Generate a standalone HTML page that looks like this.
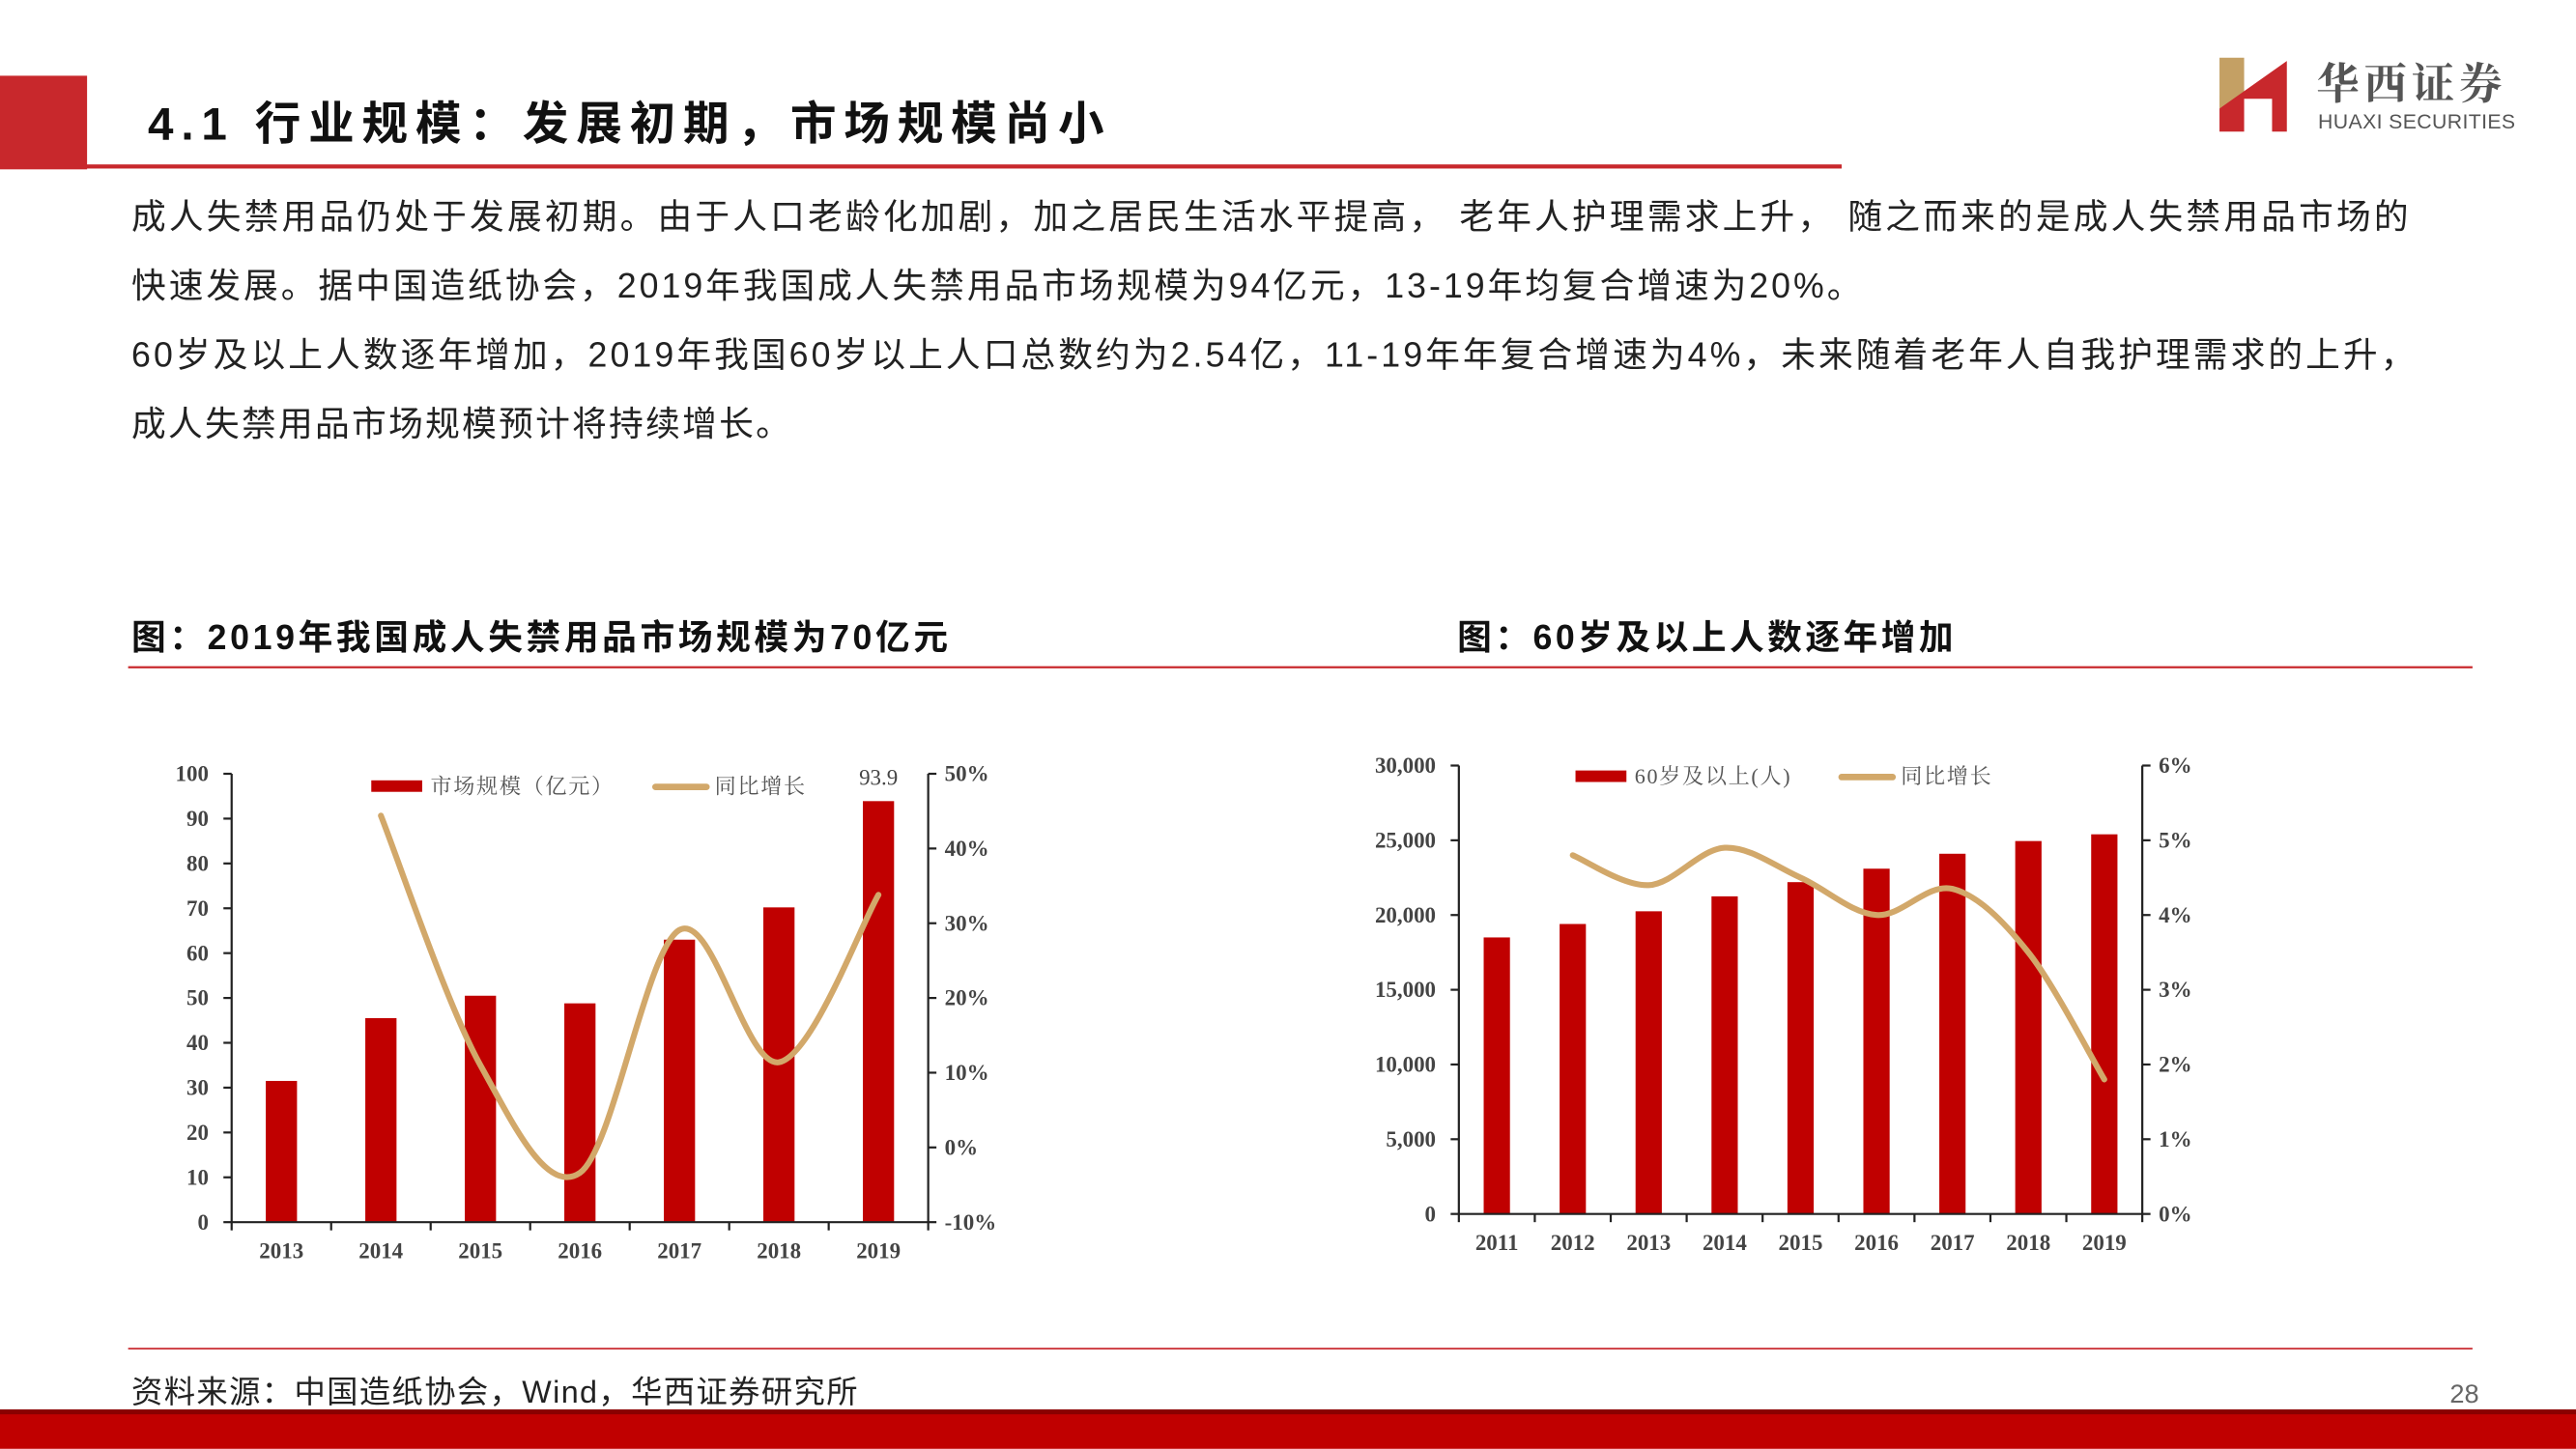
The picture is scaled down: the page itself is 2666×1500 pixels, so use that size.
<!DOCTYPE html>
<html><head><meta charset="utf-8"><style>
html,body{margin:0;padding:0;background:#fff;}
svg{display:block;}
.sans{font-family:"Liberation Sans","Noto Sans CJK SC",sans-serif;}
.serif{font-family:"Liberation Serif","Noto Serif CJK SC",serif;}
</style></head><body>
<svg id="page" width="2666" height="1500" viewBox="0 0 1568 882" xmlns="http://www.w3.org/2000/svg">
<rect x="0" y="46" width="53" height="57" fill="#c8282c"/>
<text x="90" y="85" class="sans" font-size="28" font-weight="bold" fill="#111" textLength="582" lengthAdjust="spacing">4.1 行业规模：发展初期，市场规模尚小</text>
<rect x="35" y="100" width="1086" height="2.5" fill="#c8282c"/>
<g>
<polygon points="1351,35 1366,35 1366,58 1351,66" fill="#c4a064"/>
<polygon points="1351,80 1351,66 1392,37 1392,80 1383,80 1383,60 1366,60 1366,80" fill="#c8282c"/>
<text x="1410" y="60" class="serif" font-size="26" font-weight="bold" fill="#555" letter-spacing="3">华西证券</text>
<text x="1411" y="78" class="sans" font-size="12.5" fill="#555" textLength="120" lengthAdjust="spacing">HUAXI SECURITIES</text>
</g>
<g class="sans" font-size="21" fill="#222">
<text x="80" y="139" textLength="1386" lengthAdjust="spacing">成人失禁用品仍处于发展初期。由于人口老龄化加剧，加之居民生活水平提高， 老年人护理需求上升， 随之而来的是成人失禁用品市场的</text>
<text x="80" y="181" textLength="1053" lengthAdjust="spacing">快速发展。据中国造纸协会，2019年我国成人失禁用品市场规模为94亿元，13-19年均复合增速为20%。</text>
<text x="80" y="223" textLength="1390" lengthAdjust="spacing">60岁及以上人数逐年增加，2019年我国60岁以上人口总数约为2.54亿，11-19年年复合增速为4%，未来随着老年人自我护理需求的上升，</text>
<text x="80" y="265" textLength="401" lengthAdjust="spacing">成人失禁用品市场规模预计将持续增长。</text>
</g>
<text x="80" y="395" class="sans" font-size="21" font-weight="bold" fill="#111" textLength="497" lengthAdjust="spacing">图：2019年我国成人失禁用品市场规模为70亿元</text>
<text x="887" y="395" class="sans" font-size="21" font-weight="bold" fill="#111" textLength="302" lengthAdjust="spacing">图：60岁及以上人数逐年增加</text>
<rect x="78" y="405.5" width="1427" height="1.3" fill="#c8282c"/>
<g id="c1"></g>
<g id="c2"></g>
<rect x="78" y="820.5" width="1427" height="1" fill="#c8282c"/>
<text x="80" y="854" class="sans" font-size="19" fill="#222" textLength="442" lengthAdjust="spacing">资料来源：中国造纸协会，Wind，华西证券研究所</text>
<text x="1509" y="854" class="sans" font-size="16" fill="#666" text-anchor="end">28</text>
<rect x="0" y="858" width="1568" height="24" fill="#c00000"/>
<rect x="0" y="858" width="1568" height="3" fill="#8a0000"/>
</svg>
<script>
const c1Categories=["2013","2014","2015","2016","2017","2018","2019"];
const c1Values=[31.5,45.5,50.5,48.8,63,70.2,93.9];
const c1Growth=[null,44.4,11.0,-3.4,29.1,11.4,33.8];
const c1LeftTicks=[0,10,20,30,40,50,60,70,80,90,100];
const c1RightTicks=[-10,0,10,20,30,40,50];

const c2Categories=["2011","2012","2013","2014","2015","2016","2017","2018","2019"];
const c2Values=[18500,19400,20250,21250,22200,23100,24100,24950,25400];
const c2Growth=[null,4.8,4.4,4.9,4.5,4.0,4.35,3.5,1.8];
const c2LeftTicks=[0,5000,10000,15000,20000,25000,30000];
const c2RightTicks=[0,1,2,3,4,5,6];

const NS="http://www.w3.org/2000/svg";
function mk(parent,tag,attrs){const e=document.createElementNS(NS,tag);for(const k in attrs)e.setAttribute(k,attrs[k]);parent.appendChild(e);return e;}
function smoothPath(pts){
  let d="M"+pts[0][0]+","+pts[0][1];
  for(let i=0;i<pts.length-1;i++){
    const p0=pts[i-1]||pts[i],p1=pts[i],p2=pts[i+1],p3=pts[i+2]||pts[i+1];
    const t=1/6;
    d+=" C"+(p1[0]+(p2[0]-p0[0])*t)+","+(p1[1]+(p2[1]-p0[1])*t)+" "+(p2[0]-(p3[0]-p1[0])*t)+","+(p2[1]-(p3[1]-p1[1])*t)+" "+p2[0]+","+p2[1];
  }
  return d;
}
function drawChart(g,o){
  const {x0,x1,yTop,yBot,lmin,lmax,rmin,rmax,cats,vals,growth,lt,rt,fmtL,fmtR,barW}=o;
  const n=cats.length,step=(x1-x0)/n;
  const xs=i=>x0+step*(i+0.5);
  const yl=v=>yBot-(v-lmin)/(lmax-lmin)*(yBot-yTop);
  const yr=v=>yBot-(v-rmin)/(rmax-rmin)*(yBot-yTop);
  vals.forEach((v,i)=>{
    const r=mk(g,"rect",{x:xs(i)-barW/2,y:yl(v),width:barW,height:yBot-yl(v),fill:"#c00000"});
    
    
  });
  const pts=[];growth.forEach((v,i)=>{if(v!==null)pts.push([xs(i),yr(v)]);});
  const ln=mk(g,"path",{d:smoothPath(pts),fill:"none",stroke:"#d2a86a","stroke-width":3.6,"stroke-linecap":"round"});
  
  
  const ax=mk(g,"g",{stroke:"#222","stroke-width":1.3});
  
  
  mk(ax,"line",{x1:x0,y1:yTop,x2:x0,y2:yBot});
  mk(ax,"line",{x1:x1,y1:yTop,x2:x1,y2:yBot});
  mk(ax,"line",{x1:x0,y1:yBot,x2:x1,y2:yBot});
  for(let i=0;i<=n;i++)mk(ax,"line",{x1:x0+step*i,y1:yBot,x2:x0+step*i,y2:yBot+5});
  lt.forEach(v=>{mk(ax,"line",{x1:x0-5,y1:yl(v),x2:x0,y2:yl(v)});
    const t=mk(g,"text",{x:x0-14,y:yl(v)+4.5,"text-anchor":"end","font-size":13.5,"font-weight":"bold",fill:"#444","class":"serif"});t.textContent=fmtL(v);
    
    });
  rt.forEach(v=>{mk(ax,"line",{x1:x1,y1:yr(v),x2:x1+5,y2:yr(v)});
    const t=mk(g,"text",{x:x1+10,y:yr(v)+4.5,"font-size":13.5,"font-weight":"bold",fill:"#444","class":"serif"});t.textContent=fmtR(v);
    
    });
  cats.forEach((c,i)=>{const t=mk(g,"text",{x:xs(i),y:yBot+22,"text-anchor":"middle","font-size":13.5,"font-weight":"bold",fill:"#444","class":"serif"});t.textContent=c;
    
    });
  return {xs,yl};
}
const g1=document.getElementById("c1");
const s1=drawChart(g1,{x0:141,x1:565,yTop:471,yBot:744,lmin:0,lmax:100,rmin:-10,rmax:50,cats:c1Categories,vals:c1Values,growth:c1Growth,lt:c1LeftTicks,rt:c1RightTicks,fmtL:v=>String(v),fmtR:v=>v+"%",barW:19});
const lab=mk(g1,"text",{x:s1.xs(6),y:s1.yl(c1Values[6])-10,"text-anchor":"middle","font-size":13.5,fill:"#444","class":"serif"});
lab.textContent=String(c1Values[6]);


const g2=document.getElementById("c2");
drawChart(g2,{x0:888,x1:1304,yTop:466,yBot:739,lmin:0,lmax:30000,rmin:0,rmax:6,cats:c2Categories,vals:c2Values,growth:c2Growth,lt:c2LeftTicks,rt:c2RightTicks,fmtL:v=>v.toLocaleString("en-US"),fmtR:v=>v+"%",barW:16});
function legend(g,x,y,t1,t2,x2){
  const lg=mk(g,"g",{});
  
  
  mk(lg,"rect",{x:x,y:y-3,width:31,height:7,fill:"#c00000"});
  const a=mk(lg,"text",{x:x+36,y:y+5,"font-size":13,fill:"#555","class":"serif","letter-spacing":1});a.textContent=t1;
  mk(lg,"line",{x1:x2,y1:y+1,x2:x2+31,y2:y+1,stroke:"#d2a86a","stroke-width":4,"stroke-linecap":"round"});
  const b=mk(lg,"text",{x:x2+36,y:y+5,"font-size":13,fill:"#555","class":"serif","letter-spacing":1});b.textContent=t2;
}
legend(g1,226,478,"市场规模（亿元）","同比增长",399);
legend(g2,959,472,"60岁及以上(人)","同比增长",1121);
</script>
</body></html>
